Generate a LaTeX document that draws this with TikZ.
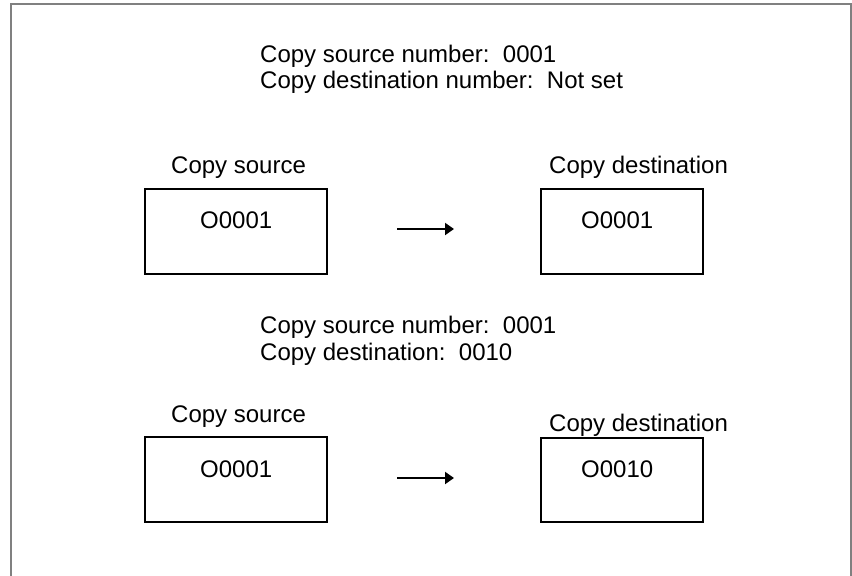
\documentclass[tikz,border=0pt]{standalone}
\usepackage{fontspec}
\setmainfont{Liberation Sans}
\usetikzlibrary{arrows.meta}
\begin{document}
\begin{tikzpicture}[x=1pt,y=-1pt,
  txt/.style={anchor=base west,inner sep=0pt,font=\fontsize{24}{26}\selectfont},
  boxnode/.style={draw=black,line width=1.2pt,rectangle,inner sep=0pt},
  arr/.style={line width=2pt,-{Triangle[length=9pt,width=12pt]}},
  frame/.style={draw=gray,line width=2.2pt}
]
\useasboundingbox (0,0) rectangle (852,576);
\path[frame] (11,577) -- (11,4) -- (851,4) -- (851,577);

% top text
\node[txt] (t1) at (260,62) {Copy source number:\ \ 0001};
\node[txt] (t2) at (260,88) {Copy destination number:\ \ Not set};

% first row
\node[txt] (ls1) at (171,173) {Copy source};
\node[txt] (ld1) at (549,173) {Copy destination};
\node[boxnode,minimum width=182pt,minimum height=85pt] (bs1) at (236,231.5) {};
\node[boxnode,minimum width=162pt,minimum height=85pt] (bd1) at (622,231.5) {};
\node[txt] (vs1) at (200,228) {O0001};
\node[txt] (vd1) at (581,228) {O0001};
\coordinate (a1s) at (397,229);
\coordinate (a1e) at (454,229);
\draw[arr] (a1s) -- (a1e);

% middle text
\node[txt] (m1) at (260,333) {Copy source number:\ \ 0001};
\node[txt] (m2) at (260,360) {Copy destination:\ \ 0010};

% second row
\node[txt] (ls2) at (171,422) {Copy source};
\node[txt] (ld2) at (549,431) {Copy destination};
\node[boxnode,minimum width=182pt,minimum height=85pt] (bs2) at (236,479.5) {};
\node[boxnode,minimum width=162pt,minimum height=84pt] (bd2) at (622,480) {};
\node[txt] (vs2) at (200,477) {O0001};
\node[txt] (vd2) at (581,477) {O0010};
\coordinate (a2s) at (397,478);
\coordinate (a2e) at (454,478);
\draw[arr] (a2s) -- (a2e);
\end{tikzpicture}
\end{document}
